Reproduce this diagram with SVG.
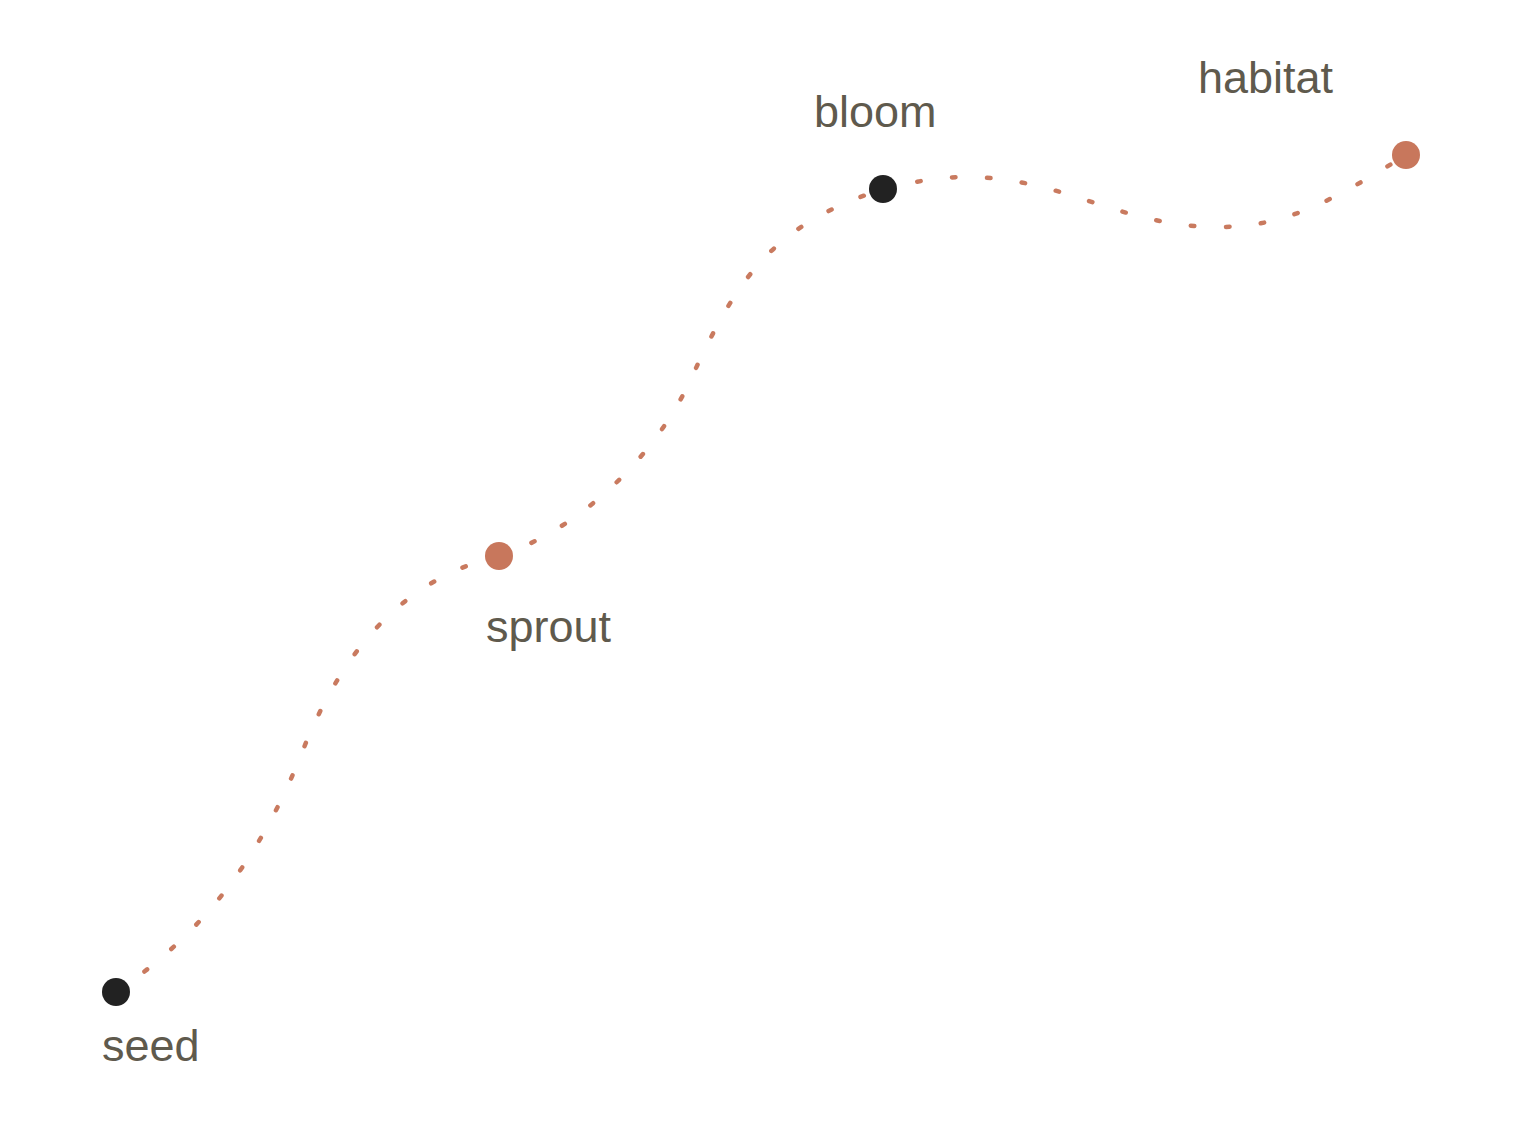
<svg xmlns="http://www.w3.org/2000/svg" width="1534" height="1131" viewBox="0 0 1534 1131">
<style>
.lbl{font-family:"Liberation Sans",Arial,sans-serif;font-size:45px;fill:#5f5a4d}
.conn{fill:none;stroke:#c97a5f;stroke-width:4.5;stroke-linecap:round;stroke-dasharray:3.5 31.5}
.dark{fill:#222222}
.warm{fill:#c8775c}
</style>
<rect width="1534" height="1131" fill="#ffffff"/>
<g id="connectors">
<path class="conn" d="M116,992 C204,933 262,856 305,745 C343,652 402,579 499,556"/>
<path class="conn" d="M499,556 C579,530 654,458 690,381 C738,276 773,225 883,189"/>
<path class="conn" d="M883,189 C910,182.5 938,177 965,177 C1065,177 1119,227 1219,227 C1289,227 1336,198 1406,155"/>
</g>
<g id="seed"><circle class="dark" cx="116" cy="992" r="14"/><text class="lbl" x="102" y="1061">seed</text></g>
<g id="sprout"><circle class="warm" cx="499" cy="556" r="14"/><text class="lbl" x="486" y="642">sprout</text></g>
<g id="bloom"><circle class="dark" cx="883" cy="189" r="14"/><text class="lbl" x="814" y="127">bloom</text></g>
<g id="habitat"><circle class="warm" cx="1406" cy="155" r="14"/><text class="lbl" x="1198" y="93">habitat</text></g>
</svg>
